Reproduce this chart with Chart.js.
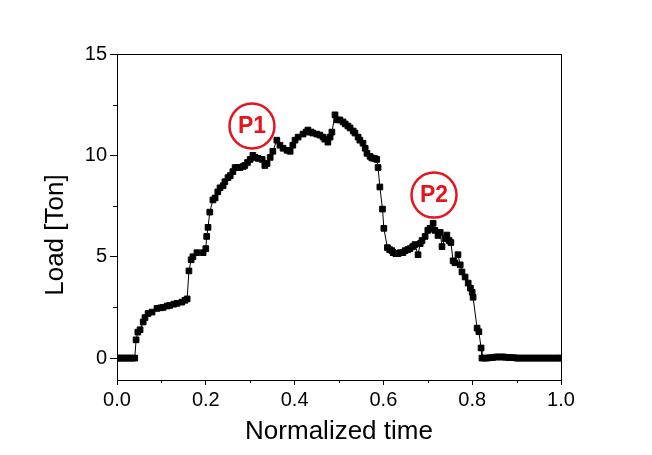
<!DOCTYPE html>
<html>
<head>
<meta charset="utf-8">
<script src="https://cdn.jsdelivr.net/npm/chart.js@4/dist/chart.umd.min.js"></script>
<style>
  html, body { margin: 0; padding: 0; background: #fff; }
  #chart { display: block; }
</style>
</head>
<body>
<canvas id="chart" width="652" height="455"></canvas>
<script>
// normalized time (x) and load in tons (y)
const timeVals = [
  0, 0.005, 0.01, 0.015, 0.02, 0.025, 0.03, 0.035, 0.04,
  0.043, 0.047, 0.052, 0.059, 0.063, 0.07, 0.079, 0.09, 0.098, 0.104, 0.113, 0.119, 0.128, 0.135, 0.146, 0.153, 0.158,
  0.162, 0.167, 0.171, 0.18, 0.194, 0.2, 0.202, 0.205, 0.209, 0.216,
  0.221, 0.227, 0.232, 0.239, 0.243, 0.25, 0.255, 0.261, 0.266, 0.272,
  0.277, 0.284, 0.288, 0.294, 0.3, 0.306, 0.311, 0.318, 0.327, 0.333,
  0.338, 0.345, 0.351, 0.36, 0.367, 0.374, 0.383, 0.39, 0.396, 0.401,
  0.408, 0.419, 0.426, 0.43, 0.437, 0.441, 0.45, 0.457, 0.464, 0.468,
  0.475, 0.48, 0.484, 0.491, 0.495, 0.502, 0.509, 0.514, 0.52, 0.525,
  0.532, 0.536, 0.543, 0.547, 0.554, 0.559, 0.563, 0.57, 0.574, 0.58,
  0.585, 0.588, 0.592, 0.598, 0.601, 0.609, 0.614, 0.619, 0.622, 0.628,
  0.633, 0.638, 0.644, 0.649, 0.655, 0.66, 0.666, 0.671, 0.678, 0.683,
  0.687, 0.694, 0.7, 0.705, 0.712, 0.716, 0.723, 0.728, 0.732, 0.739,
  0.743, 0.748, 0.752, 0.757, 0.761, 0.768, 0.773, 0.777, 0.784, 0.791,
  0.796, 0.8, 0.802, 0.811, 0.815, 0.82, 0.822,
  0.828, 0.834, 0.84, 0.846, 0.852, 0.858, 0.864, 0.87, 0.876, 0.882,
  0.888, 0.894, 0.9, 0.906, 0.912, 0.918, 0.924, 0.93, 0.936, 0.942,
  0.948, 0.954, 0.96, 0.966, 0.972, 0.978, 0.984, 0.99, 0.996, 1.0
];
const loadVals = [
  0, 0, 0, 0, 0, 0, 0, 0, 0,
  0.9, 1.28, 1.4, 1.78, 2.0, 2.2, 2.27, 2.45, 2.48, 2.5, 2.57, 2.6, 2.66, 2.7, 2.76, 2.85, 2.92,
  4.3, 4.85, 5.0, 5.2, 5.2, 5.4, 6.0, 6.45, 7.2, 7.8,
  7.9, 8.2, 8.4, 8.5, 8.7, 8.9, 9.0, 9.2, 9.4, 9.4,
  9.4, 9.45, 9.5, 9.65, 9.8, 10.0, 9.9, 9.85, 9.8, 9.5,
  9.6, 9.9, 10.2, 10.75, 10.5, 10.35, 10.25, 10.2, 10.5, 10.75,
  10.9, 11.05, 11.15, 11.25, 11.15, 11.1, 11.05, 11.0, 10.9, 10.8,
  10.65, 10.9, 11.15, 12.0, 11.75, 11.75, 11.65, 11.55, 11.45, 11.35,
  11.2, 11.1, 10.9, 10.75, 10.6, 10.35, 10.1, 9.95, 9.87, 9.85,
  9.8, 9.4, 8.44, 7.35, 6.4, 5.45, 5.35, 5.3, 5.2, 5.15,
  5.15, 5.2, 5.2, 5.3, 5.35, 5.4, 5.5, 5.6, 5.1, 5.65,
  5.8, 6.0, 6.3, 6.4, 6.65, 6.3, 6.05, 6.2, 5.5, 5.9,
  6.07, 5.8, 5.7, 4.8, 4.7, 5.1, 4.6, 4.25, 4.0, 3.7,
  3.45, 3.25, 3.0, 1.48, 1.3, 0.5, 0,
  0, 0, 0.02, 0.03, 0.05, 0.06, 0.05, 0.06, 0.04, 0.03,
  0.02, 0.02, 0, 0, 0, 0, 0, 0, 0, 0,
  0, 0, 0, 0, 0, 0, 0, 0, 0, 0
];

const xTicks = [0, 0.2, 0.4, 0.6, 0.8, 1.0];
const xMinor = [0.1, 0.3, 0.5, 0.7, 0.9];
const yTicks = [0, 5, 10, 15];
const yMinor = [2.5, 7.5, 12.5];

// peak callouts
const noteLabels = ['P1', 'P2'];
const noteX = [0.304, 0.714];
const noteY = [11.45, 8.04];

const FONT = 'Arial, "Liberation Sans", sans-serif';
const RED = '#e8141c';

const boxPlugin = {
  id: 'boxPlugin',
  afterDraw(chart) {
    const {ctx, chartArea: a, scales} = chart;
    ctx.save();
    ctx.strokeStyle = '#000';
    ctx.lineWidth = 1;
    ctx.strokeRect(a.left + 0.5, a.top + 0.5, a.right - a.left, a.bottom - a.top);
    // minor ticks
    ctx.beginPath();
    xMinor.forEach(v => {
      const px = Math.round(scales.x.getPixelForValue(v)) + 0.5;
      ctx.moveTo(px, a.bottom);
      ctx.lineTo(px, a.bottom + 3);
    });
    yMinor.forEach(v => {
      const py = Math.round(scales.y.getPixelForValue(v)) + 0.5;
      ctx.moveTo(a.left, py);
      ctx.lineTo(a.left - 4, py);
    });
    ctx.stroke();
    // P1 / P2 circles
    noteLabels.forEach((t, i) => {
      const cx = scales.x.getPixelForValue(noteX[i]);
      const cy = scales.y.getPixelForValue(noteY[i]);
      ctx.beginPath();
      ctx.arc(cx, cy, 22.5, 0, Math.PI * 2);
      ctx.strokeStyle = RED;
      ctx.lineWidth = 2.5;
      ctx.stroke();
      ctx.fillStyle = RED;
      ctx.font = 'bold 23px ' + FONT;
      ctx.textAlign = 'center';
      ctx.textBaseline = 'middle';
      ctx.fillText(t, cx, cy + 1);
    });
    ctx.restore();
  }
};

const ctx = document.getElementById('chart').getContext('2d');
const chart = new Chart(ctx, {
  type: 'line',
  data: {
    datasets: [{
      label: 'Load',
      data: timeVals.map((t, i) => ({x: t, y: loadVals[i]})),
      borderColor: '#000',
      backgroundColor: '#000',
      borderWidth: 1,
      pointStyle: 'rect',
      pointRadius: 4,
      pointBorderWidth: 1,
      pointBackgroundColor: '#000',
      pointBorderColor: '#000',
      tension: 0,
      fill: false
    }]
  },
  options: {
    responsive: false,
    animation: false,
    layout: { padding: { top: 54, right: 91, left: 0, bottom: 0 } },
    plugins: {
      legend: { display: false },
      tooltip: { enabled: false }
    },
    scales: {
      x: {
        type: 'linear',
        min: 0,
        max: 1,
        afterBuildTicks: s => { s.ticks = xTicks.map(v => ({value: v})); },
        afterFit: s => { s.height = 75; },
        border: { display: true, color: '#000', width: 1 },
        grid: { drawOnChartArea: false, drawTicks: true, tickLength: 5, color: '#000' },
        ticks: {
          color: '#000',
          padding: 3,
          maxRotation: 0,
          font: { family: FONT, size: 20 },
          callback: v => v.toFixed(1)
        },
        title: {
          display: true,
          text: 'Normalized time',
          color: '#000',
          font: { family: FONT, size: 26 },
          padding: { top: 0, bottom: 8 }
        }
      },
      y: {
        type: 'linear',
        min: -1.08,
        max: 15,
        afterBuildTicks: s => { s.ticks = yTicks.map(v => ({value: v})); },
        afterFit: s => { s.width = 117; },
        border: { display: true, color: '#000', width: 1 },
        grid: { drawOnChartArea: false, drawTicks: true, tickLength: 7, color: '#000' },
        ticks: {
          color: '#000',
          padding: 3,
          font: { family: FONT, size: 20 },
          callback: v => String(v)
        },
        title: {
          display: true,
          text: 'Load [Ton]     ',
          color: '#000',
          font: { family: FONT, size: 26 },
          padding: { top: 40, bottom: 0 }
        }
      }
    }
  },
  plugins: [boxPlugin]
});
</script>
</body>
</html>
